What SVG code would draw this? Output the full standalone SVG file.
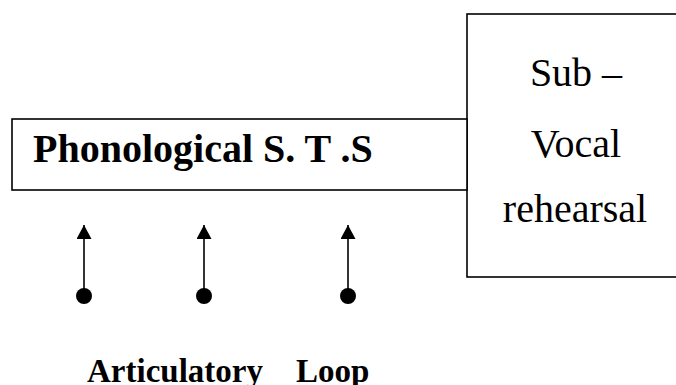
<svg xmlns="http://www.w3.org/2000/svg" width="676" height="385" viewBox="0 0 676 385">
  <style>
    .box { fill: #ffffff; stroke: #000000; stroke-width: 1.6; }
    .label { font-family: "Liberation Serif", "Times New Roman", serif; font-size: 40px; fill: #000000; }
    .bold { font-weight: bold; }
    .caption { font-size: 33px; }
    .link { stroke: #000000; stroke-width: 1.6; fill: none; }
  </style>
  <defs>
    <marker id="arrowHead" viewBox="0 0 14 15" refX="14" refY="7.5" markerWidth="14" markerHeight="15" markerUnits="userSpaceOnUse" orient="auto">
      <path d="M0,0 L14,7.5 L0,15 Z" fill="#000000"/>
    </marker>
  </defs>

  <rect width="676" height="385" fill="#ffffff"/>

  <!-- rehearsal box, open past the right edge -->
  <g id="sub-vocal">
    <rect class="box" x="467" y="14" width="220" height="263"/>
    <text class="label" x="576" y="86" text-anchor="middle">Sub –</text>
    <text class="label" x="576" y="157" text-anchor="middle">Vocal</text>
    <text class="label" x="575" y="222" text-anchor="middle">rehearsal</text>
  </g>

  <!-- store box -->
  <g id="phonological-sts">
    <rect class="box" x="12" y="119" width="455" height="71"/>
    <text class="label bold" x="33" y="162">Phonological S. T .S</text>
  </g>

  <!-- upward arrows from dots -->
  <g id="connectors">
    <line class="link" x1="84" y1="296" x2="84" y2="225" marker-end="url(#arrowHead)"/>
    <circle cx="84" cy="296" r="8"/>
    <line class="link" x1="204" y1="296" x2="204" y2="225" marker-end="url(#arrowHead)"/>
    <circle cx="204" cy="296" r="8"/>
    <line class="link" x1="348" y1="296" x2="348" y2="225" marker-end="url(#arrowHead)"/>
    <circle cx="348" cy="296" r="8"/>
  </g>

  <g id="caption">
    <text class="label bold caption" x="87" y="382">Articulatory</text>
    <text class="label bold caption" x="296" y="382">Loop</text>
  </g>
</svg>
